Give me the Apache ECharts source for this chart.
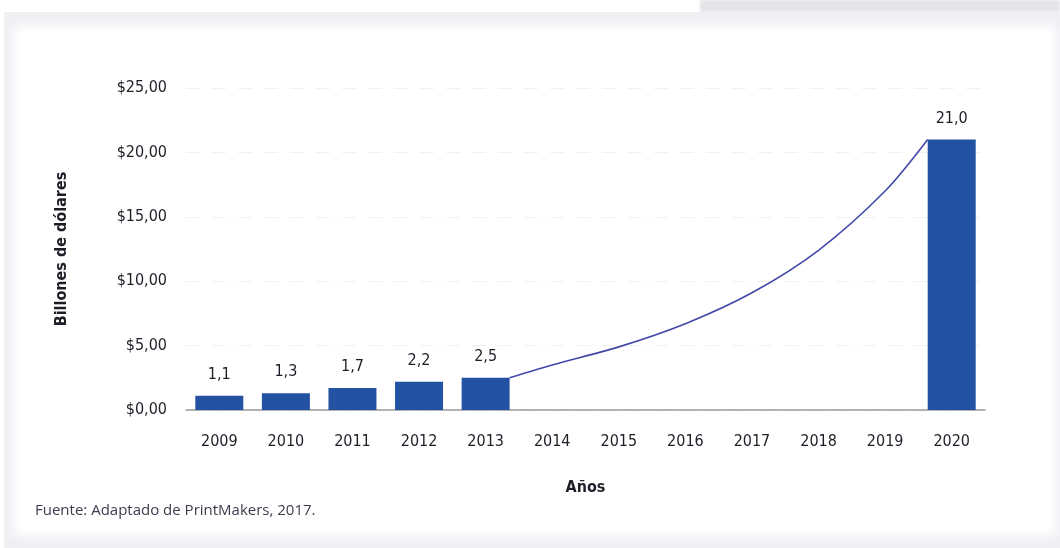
<!DOCTYPE html>
<html lang="es">
<head>
<meta charset="utf-8">
<title>Billones de dólares por año</title>
<script src="https://cdn.jsdelivr.net/npm/echarts@6/dist/echarts.min.js"></script>
<style>
  html, body { margin: 0; padding: 0; background: #ffffff; }
  #stage { position: relative; width: 1060px; height: 548px; overflow: hidden; background: #ffffff; }
  #strip { position: absolute; left: 700px; top: 0; width: 360px; height: 12px; background: #e5e4e8; filter: blur(1px); }
  #panel { position: absolute; left: 4px; top: 12px; width: 1060px; height: 540px; background: #eef0f4; }
  #card { position: absolute; left: 20px; top: 32px; width: 1030px; height: 498px; background: #ffffff;
          box-shadow: 0 0 10px 6px #ffffff; }
  #chart { position: absolute; left: 0; top: 0; width: 1060px; height: 548px; }
</style>
</head>
<body>
<div id="stage">
  <div id="strip"></div>
  <div id="panel"></div>
  <div id="card"></div>
  <div id="chart"></div>
</div>
<script>
// Market size, billions of dollars
const years = ['2009', '2010', '2011', '2012', '2013', '2014', '2015', '2016', '2017', '2018', '2019', '2020'];
const barValues = [1.1, 1.3, 1.7, 2.2, 2.5, null, null, null, null, null, null, 21.0];
// projected growth path between the last observed year and the forecast
const curveYears = [2013, 2014, 2015, 2016, 2017, 2018, 2019, 2020];
const curveValues = [2.5, 3.5, 4.9, 6.7, 9.1, 12.4, 17.0, 21.0];
const yTicks = [0, 5, 10, 15, 20, 25];

const FONT = "'Liberation Sans Narrow', 'DejaVu Sans Condensed', 'Roboto', sans-serif";
const INK = '#1e1e28';
const BAR_COLOR = '#2452a3';
const LINE_COLOR = '#4148a8';

const grid = { left: 186, right: 75, top: 88, bottom: 138 };
const BAR_W = 48;

const chart = echarts.init(document.getElementById('chart'), null, { renderer: 'canvas' });

// the curve leaves the right edge of the first bar and meets the left edge of the last one
const catWidth = (chart.getWidth() - grid.left - grid.right) / years.length;
const edge = (BAR_W / 2) / catWidth;
const curveData = curveYears.map((y, i) => {
  let x = y;
  if (i === 0) x += edge;
  if (i === curveYears.length - 1) x -= edge;
  return [x, curveValues[i]];
});

const comma = (v, d) => v.toFixed(d).replace('.', ',');

chart.setOption({
  animation: false,
  backgroundColor: 'transparent',
  title: {
    text: 'Fuente: Adaptado de PrintMakers, 2017.',
    left: 30,
    top: 498,
    textStyle: { fontFamily: "'Open Sans', 'Noto Sans', sans-serif", fontSize: 15, fontWeight: 'normal', color: '#3c3c4c' }
  },
  grid: grid,
  xAxis: [
    {
      type: 'category',
      data: years,
      name: 'Años',
      nameLocation: 'middle',
      nameGap: 70,
      nameTextStyle: { fontFamily: FONT, fontSize: 16, fontWeight: 'bold', color: INK },
      axisLine: { show: true, lineStyle: { color: '#9a9a9a', width: 1.5 } },
      axisTick: { show: false },
      axisLabel: { fontFamily: FONT, fontSize: 16, color: INK, margin: 24 }
    },
    {
      type: 'value',
      min: Number(years[0]) - 0.5,
      max: Number(years[years.length - 1]) + 0.5,
      show: false
    }
  ],
  yAxis: {
    type: 'value',
    min: yTicks[0],
    max: yTicks[yTicks.length - 1],
    interval: yTicks[1] - yTicks[0],
    name: 'Billones de dólares',
    nameLocation: 'middle',
    nameGap: 116,
    nameRotate: 90,
    nameTextStyle: { fontFamily: FONT, fontSize: 16, fontWeight: 'bold', color: INK },
    axisLine: { show: false },
    axisTick: { show: false },
    splitLine: { show: true, lineStyle: { color: '#f0f0f0', type: [14, 12], width: 1 } },
    axisLabel: {
      fontFamily: FONT, fontSize: 16, color: INK, margin: 19,
      formatter: v => '$' + comma(v, 2)
    }
  },
  series: [
    {
      type: 'line',
      xAxisIndex: 1,
      data: curveData,
      smooth: 0.3,
      showSymbol: false,
      z: 3,
      lineStyle: { color: LINE_COLOR, width: 1.6 }
    },
    {
      type: 'bar',
      xAxisIndex: 0,
      data: barValues,
      barWidth: BAR_W,
      z: 2,
      itemStyle: { color: BAR_COLOR },
      label: {
        show: true,
        position: 'top',
        distance: 13,
        fontFamily: FONT,
        fontSize: 16,
        color: INK,
        formatter: p => (p.value == null ? '' : comma(p.value, 1))
      }
    }
  ]
});
</script>
</body>
</html>
